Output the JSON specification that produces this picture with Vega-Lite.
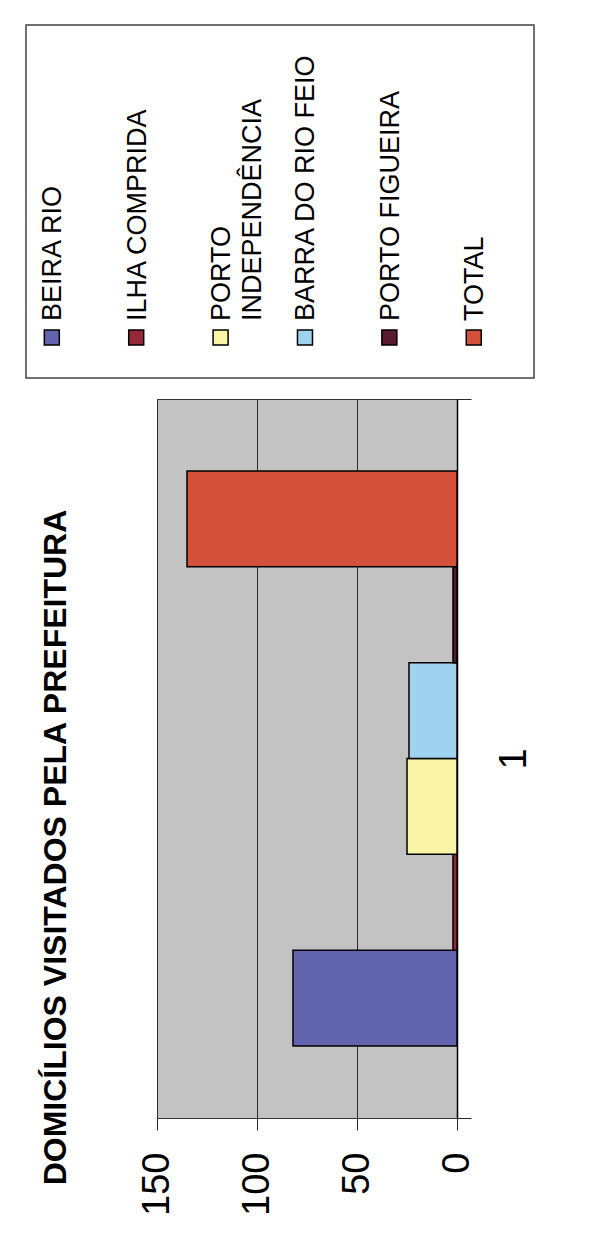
{
  "$schema": "https://vega.github.io/schema/vega-lite/v6.json",
  "padding": {"left": 25, "top": 24, "right": 0, "bottom": 0},
  "background": "white",
  "datasets": {
    "domicilios": [
      {"serie": "BEIRA RIO", "rotulo": "BEIRA RIO", "grupo": "1", "valor": 82},
      {"serie": "ILHA COMPRIDA", "rotulo": "ILHA COMPRIDA", "grupo": "1", "valor": 2},
      {"serie": "PORTO INDEPENDÊNCIA", "rotulo": "PORTO\nINDEPENDÊNCIA", "grupo": "1", "valor": 25},
      {"serie": "BARRA DO RIO FEIO", "rotulo": "BARRA DO RIO FEIO", "grupo": "1", "valor": 24},
      {"serie": "PORTO FIGUEIRA", "rotulo": "PORTO FIGUEIRA", "grupo": "1", "valor": 2},
      {"serie": "TOTAL", "rotulo": "TOTAL", "grupo": "1", "valor": 135}
    ]
  },
  "spacing": 19,
  "vconcat": [
    {
      "width": 508,
      "height": 353,
      "view": {"stroke": "#444444", "strokeWidth": 1.5, "fill": "white"},
      "data": {"name": "domicilios"},
      "encoding": {
        "x": {
          "field": "serie", "type": "nominal",
          "sort": ["BEIRA RIO", "ILHA COMPRIDA", "PORTO INDEPENDÊNCIA", "BARRA DO RIO FEIO", "PORTO FIGUEIRA", "TOTAL"],
          "scale": {"type": "point", "padding": 0.51, "align": 0.3},
          "axis": null
        }
      },
      "layer": [
        {
          "mark": {"type": "square", "size": 225, "filled": true, "stroke": "black", "strokeWidth": 1.5, "opacity": 1, "yOffset": 136},
          "encoding": {
            "color": {
              "field": "serie", "type": "nominal",
              "scale": {
                "domain": ["BEIRA RIO", "ILHA COMPRIDA", "PORTO INDEPENDÊNCIA", "BARRA DO RIO FEIO", "PORTO FIGUEIRA", "TOTAL"],
                "range": ["#6265ad", "#96283a", "#faf5a6", "#9fd2ef", "#5a1a2f", "#d4503b"]
              },
              "legend": null
            }
          }
        },
        {
          "mark": {"type": "text", "angle": 270, "align": "left", "baseline": "alphabetic", "dx": -119.5, "dy": 9.5, "fontSize": 27, "font": "Liberation Sans", "lineBreak": "\n", "lineHeight": 31, "color": "black"},
          "encoding": {"text": {"field": "rotulo", "type": "nominal"}}
        }
      ]
    },
    {
      "spacing": 12,
      "hconcat": [
        {
          "width": 1,
          "height": 719,
          "view": {"stroke": null, "fill": null},
          "data": {"name": "domicilios"},
          "mark": {"type": "text"},
          "encoding": {}
        },
        {
          "width": 300,
          "height": 719,
          "view": {"fill": "#c3c3c3", "stroke": "#333333", "strokeWidth": 1},
          "title": {
            "text": "DOMICÍLIOS VISITADOS PELA PREFEITURA",
            "orient": "left", "anchor": "middle", "dx": -89,
            "fontSize": 32, "fontWeight": "bold", "font": "Liberation Sans", "color": "black",
            "offset": 65
          },
          "data": {"name": "domicilios"},
          "mark": {"type": "bar", "stroke": "black", "strokeWidth": 1.5},
          "encoding": {
            "x": {
              "field": "valor", "type": "quantitative",
              "scale": {"domain": [0, 150], "reverse": true, "nice": false, "zero": true},
              "axis": {
                "orient": "bottom", "values": [0, 50, 100, 150], "grid": true, "gridColor": "#2a2a2a", "gridWidth": 1,
                "domain": false, "ticks": true, "tickSize": 12, "tickColor": "#2a2a2a", "tickWidth": 1,
                "labelAngle": 270, "labelAlign": "right", "labelBaseline": "middle", "labelFontSize": 38,
                "labelFont": "Liberation Sans", "labelColor": "black", "labelPadding": 22, "labelFlush": false,
                "labelOverlap": false, "title": null
              }
            },
            "y": {
              "field": "grupo", "type": "nominal",
              "scale": {"paddingInner": 0, "paddingOuter": 0},
              "axis": {
                "orient": "right", "tickBand": "extent", "ticks": true, "tickSize": 14, "tickColor": "#2a2a2a", "tickWidth": 1,
                "domain": true, "domainColor": "black", "domainWidth": 1.5, "grid": false,
                "labelAngle": 270, "labelAlign": "center", "labelBaseline": "top", "labelFontSize": 38,
                "labelFont": "Liberation Sans", "labelColor": "black", "labelPadding": 24, "title": null
              }
            },
            "yOffset": {
              "field": "serie", "type": "nominal",
              "sort": ["TOTAL", "PORTO FIGUEIRA", "BARRA DO RIO FEIO", "PORTO INDEPENDÊNCIA", "ILHA COMPRIDA", "BEIRA RIO"],
              "scale": {"paddingInner": 0, "paddingOuter": 0.75}
            },
            "color": {
              "field": "serie", "type": "nominal",
              "scale": {
                "domain": ["BEIRA RIO", "ILHA COMPRIDA", "PORTO INDEPENDÊNCIA", "BARRA DO RIO FEIO", "PORTO FIGUEIRA", "TOTAL"],
                "range": ["#6265ad", "#96283a", "#faf5a6", "#9fd2ef", "#5a1a2f", "#d4503b"]
              },
              "legend": null
            }
          }
        }
      ]
    }
  ],
  "config": {"font": "Liberation Sans"}
}
